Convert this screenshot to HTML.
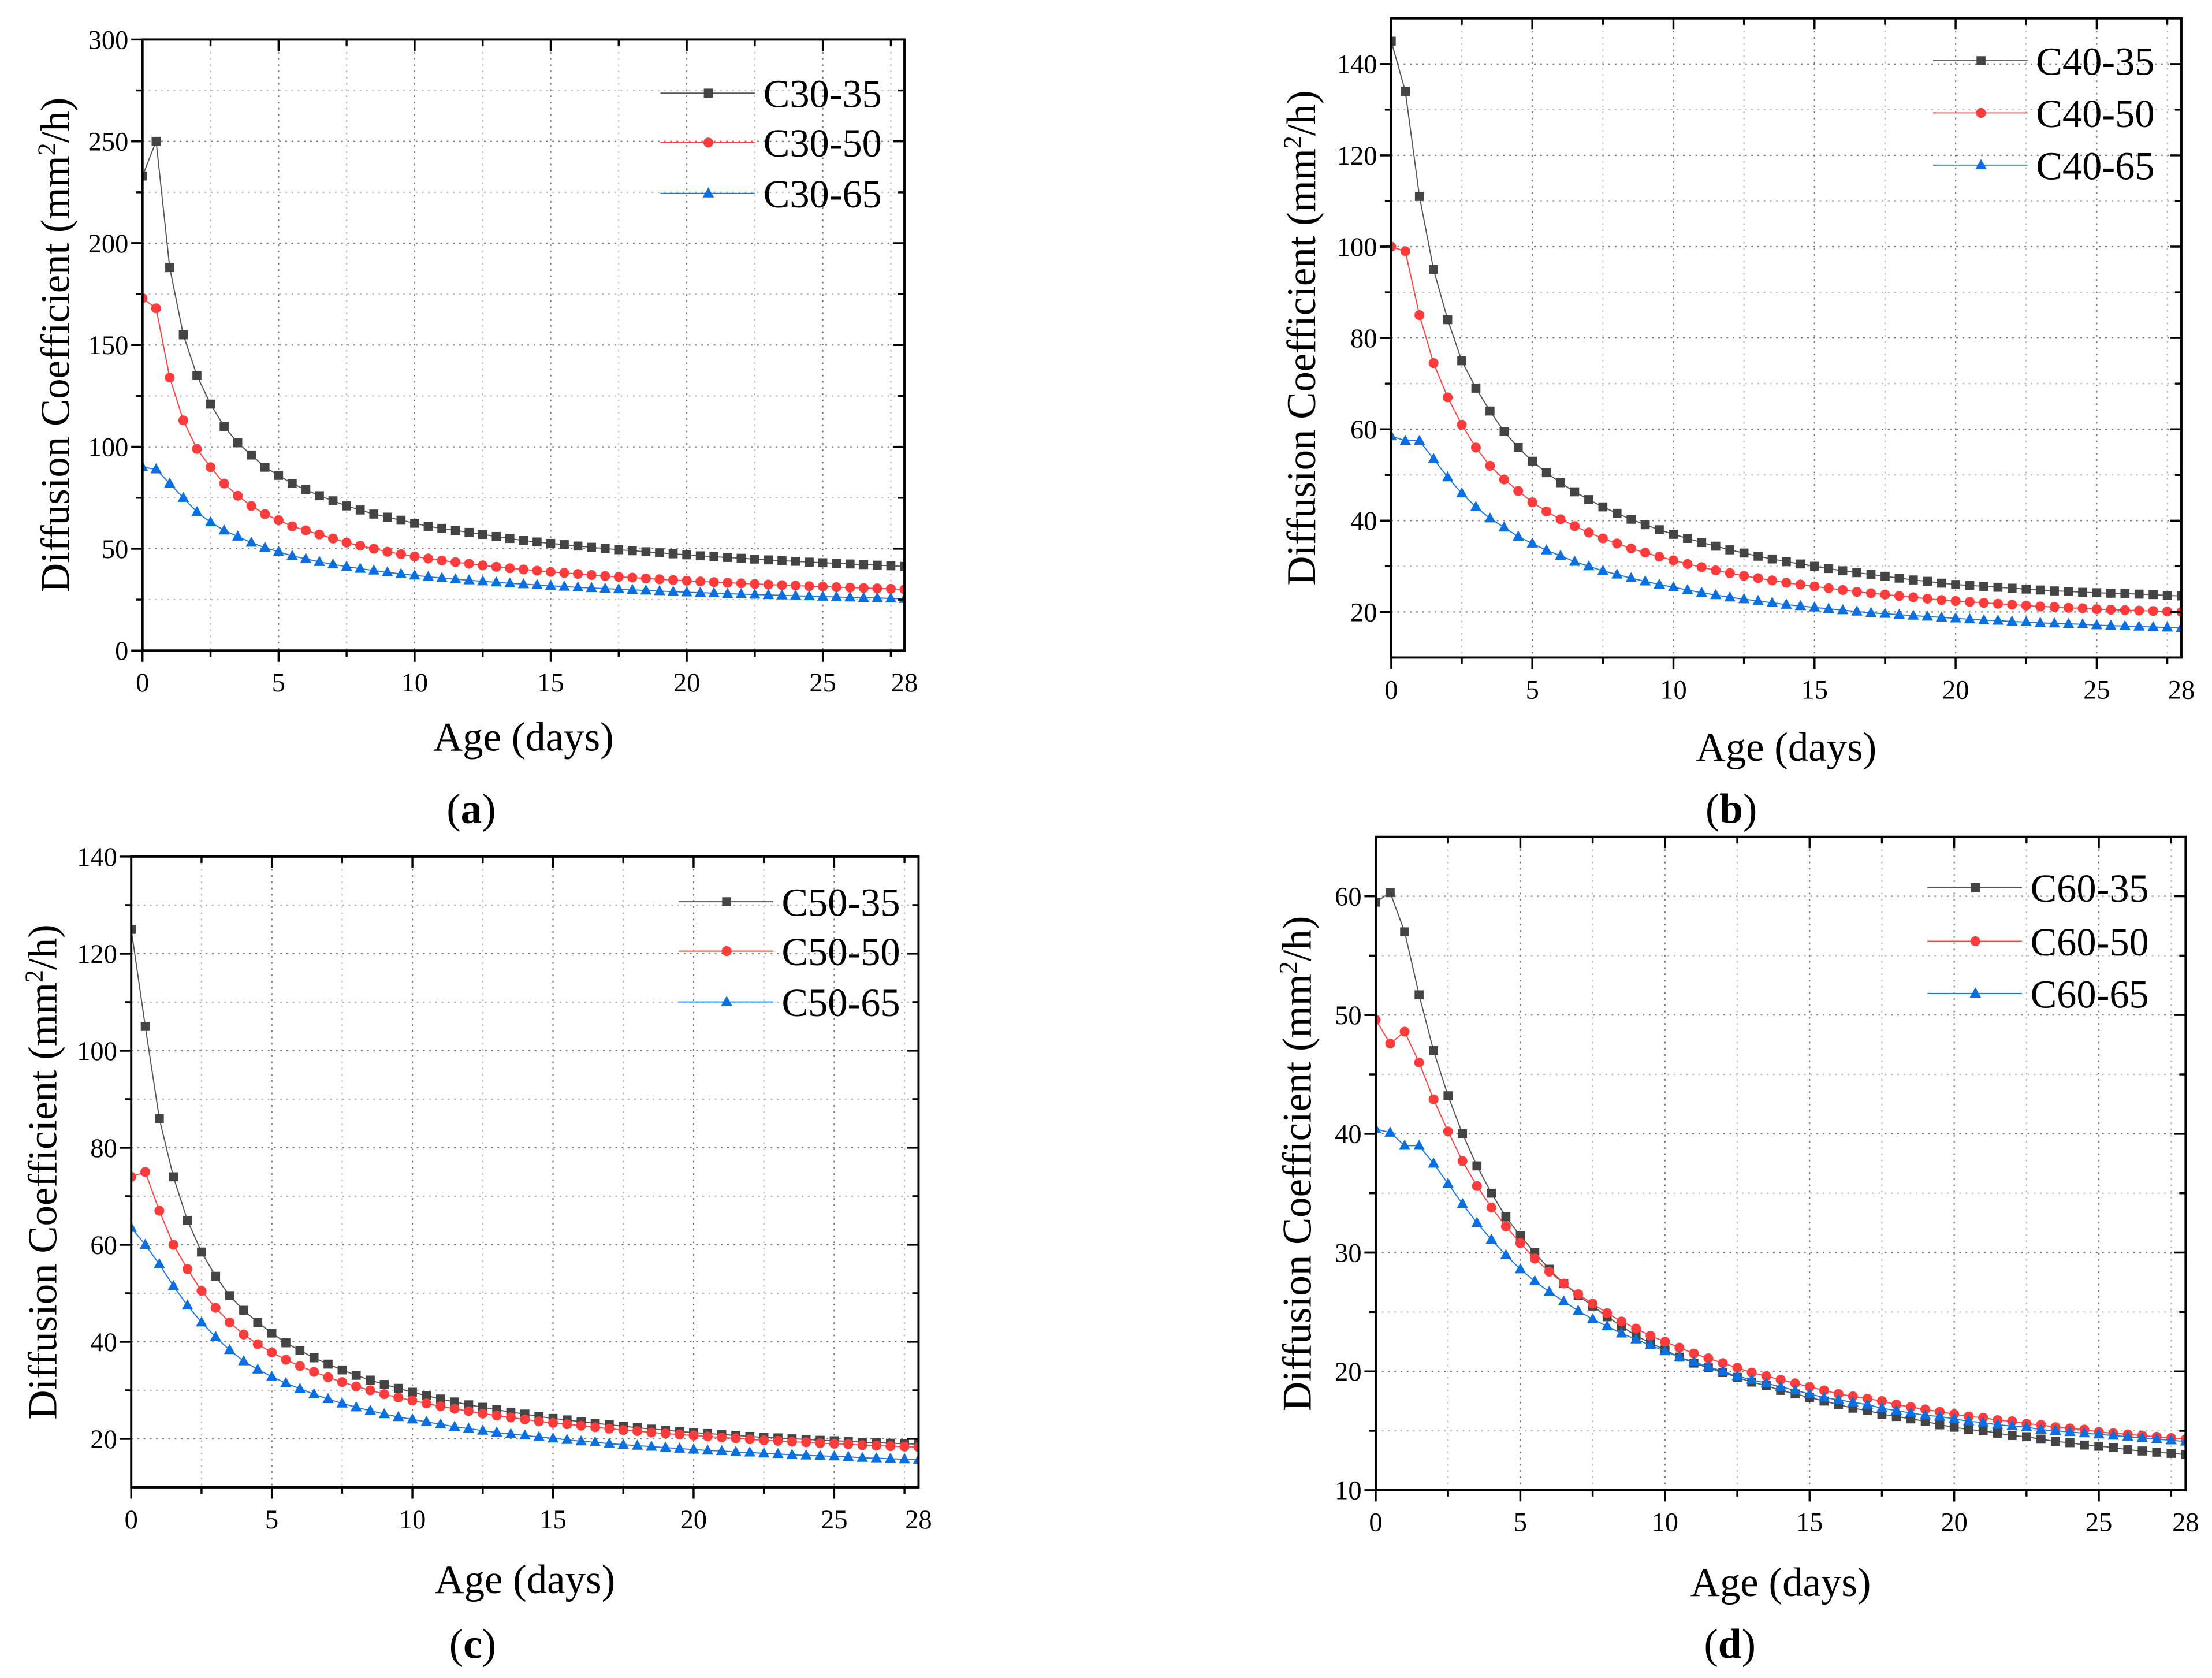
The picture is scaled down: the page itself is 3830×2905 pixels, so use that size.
<!DOCTYPE html>
<html><head><meta charset="utf-8">
<style>
html,body{margin:0;padding:0;background:#fff;}
svg{display:block;}
text{font-family:"Liberation Serif",serif;fill:#000;}
</style></head>
<body>
<svg id="fig" width="3830" height="2905" viewBox="0 0 1567.7 1189.1" preserveAspectRatio="none" xmlns="http://www.w3.org/2000/svg">
<rect x="0" y="0" width="1567.7" height="1189.1" fill="#fff"/>
</svg>
<script>
const ages = [];
for (let i = 0; i <= 56; i++) ages.push(i * 0.5);

const c30_35 = [233,250,188,155,135,121,110,102,96,90,86,82,79,76,73.5,71,69,67,65.5,64,62.5,61,60,59,58,57,56,55,54,53.3,52.6,52,51.3,50.7,50.1,49.5,49,48.5,48,47.5,47,46.5,46.1,45.7,45.3,44.9,44.5,44.1,43.8,43.4,43.1,42.8,42.5,42.2,41.9,41.6,41.3];
const c30_50 = [173,168,134,113,99,90,82,76,71,67,64,61,59,57,55,53,51.5,50,48.5,47.3,46.2,45.2,44.2,43.4,42.6,41.8,41.1,40.4,39.8,39.2,38.6,38.1,37.6,37.1,36.6,36.2,35.8,35.4,35,34.6,34.3,33.9,33.6,33.3,33,32.7,32.4,32.1,31.9,31.6,31.4,31.1,30.9,30.7,30.5,30.3,30];
const c30_65 = [90,89,82,75,68,63,59,56,53,50.5,48.5,46.5,45,43.5,42.3,41.2,40.2,39.3,38.4,37.6,36.9,36.2,35.6,35,34.5,34,33.5,33,32.6,32.2,31.8,31.4,31,30.7,30.4,30.1,29.8,29.5,29.2,28.9,28.6,28.4,28.2,27.9,27.7,27.5,27.3,27.1,26.9,26.7,26.5,26.3,26.1,25.9,25.8,25.6,25.4];

const c40_35 = [145,134,111,95,84,75,69,64,59.5,56,53,50.5,48.3,46.3,44.6,43,41.6,40.3,39.1,38,37,36.1,35.2,34.4,33.6,32.9,32.2,31.6,31,30.5,30,29.5,29,28.6,28.2,27.8,27.4,27,26.7,26.3,26,25.8,25.6,25.4,25.2,25,24.8,24.6,24.5,24.3,24.2,24.1,24,23.9,23.8,23.6,23.5];
const c40_50 = [100,99,85,74.5,67,61,56,52,49,46.5,44,42,40.3,38.8,37.4,36.1,35,33.9,33,32.1,31.3,30.5,29.8,29.1,28.5,27.9,27.4,26.9,26.4,26,25.6,25.2,24.8,24.4,24.1,23.8,23.5,23.2,22.9,22.6,22.4,22.2,22,21.8,21.6,21.4,21.2,21.1,20.9,20.8,20.6,20.5,20.4,20.3,20.2,20.1,20];
const c40_65 = [58.5,57.5,57.5,53.5,49.5,46,43,40.5,38.5,36.5,35,33.5,32.3,31,30,29,28.2,27.4,26.7,26,25.4,24.8,24.2,23.7,23.2,22.8,22.4,22,21.6,21.3,21,20.7,20.4,20.1,19.8,19.6,19.4,19.2,19,18.8,18.6,18.4,18.2,18.1,17.9,17.8,17.6,17.5,17.4,17.3,17.1,17,16.9,16.8,16.7,16.6,16.5];

const c50_35 = [125,105,86,74,65,58.5,53.5,49.5,46.5,44,41.8,39.8,38.2,36.7,35.4,34.2,33.1,32.1,31.2,30.4,29.6,28.9,28.2,27.6,27,26.5,26,25.5,25.1,24.6,24.2,23.9,23.5,23.2,22.9,22.6,22.3,22,21.8,21.5,21.3,21.1,20.9,20.7,20.5,20.3,20.2,20,19.9,19.7,19.6,19.5,19.3,19.2,19.1,19,18.9];
const c50_50 = [74,75,67,60,55,50.5,47,44,41.5,39.5,37.8,36.3,35,33.8,32.7,31.7,30.8,30,29.2,28.5,27.9,27.3,26.7,26.2,25.7,25.2,24.8,24.4,24,23.6,23.3,23,22.7,22.4,22.1,21.8,21.6,21.3,21.1,20.9,20.7,20.5,20.3,20.1,19.9,19.7,19.6,19.4,19.3,19.1,19,18.9,18.7,18.6,18.5,18.4,18.3];
const c50_65 = [63.5,60,56,51.5,47.5,44,41,38.3,36,34.3,32.8,31.5,30.3,29.2,28.2,27.3,26.5,25.8,25.1,24.5,24,23.5,23,22.5,22.1,21.7,21.3,21,20.7,20.4,20.1,19.8,19.5,19.3,19,18.8,18.6,18.4,18.2,18,17.8,17.6,17.5,17.3,17.2,17,16.9,16.7,16.6,16.5,16.4,16.3,16.1,16,15.9,15.8,15.7];

const c60_35 = [59.5,60.3,57,51.7,47,43.2,40,37.3,35,33,31.4,30,28.6,27.4,26.4,25.5,24.6,23.8,23,22.4,21.8,21.2,20.7,20.3,19.9,19.5,19.1,18.8,18.4,18.1,17.8,17.5,17.2,16.9,16.7,16.4,16.2,16,15.8,15.5,15.3,15.1,15,14.8,14.6,14.5,14.3,14.1,14,13.8,13.7,13.6,13.4,13.3,13.2,13.1,13];
const c60_50 = [49.6,47.6,48.6,46,42.9,40.2,37.7,35.6,33.8,32.2,30.8,29.5,28.4,27.4,26.5,25.7,24.9,24.2,23.6,23,22.5,22,21.5,21.1,20.7,20.3,19.9,19.6,19.3,19,18.7,18.4,18.1,17.9,17.7,17.5,17.2,17,16.8,16.6,16.4,16.2,16.1,15.9,15.8,15.6,15.5,15.3,15.2,15.1,14.9,14.8,14.7,14.6,14.5,14.4,14.3];
const c60_65 = [40.4,40.1,39,39,37.5,35.8,34.1,32.5,31.1,29.8,28.6,27.6,26.7,25.9,25.1,24.4,23.8,23.2,22.7,22.2,21.7,21.2,20.8,20.4,20,19.6,19.3,19,18.7,18.4,18.1,17.8,17.6,17.4,17.2,16.9,16.7,16.5,16.3,16.2,16,15.8,15.7,15.5,15.4,15.3,15.1,15,14.9,14.8,14.7,14.6,14.5,14.4,14.3,14.2,14.1];

const xTickLabels = ["0","5","10","15","20","25","28"];
const xTickValues = [0,5,10,15,20,25,28];
const yTicksA = [0,50,100,150,200,250,300];
const yTicksB = [20,40,60,80,100,120,140];
const yTicksC = [20,40,60,80,100,120,140];
const yTicksD = [10,20,30,40,50,60];
const namesA = ["C30-35","C30-50","C30-65"];
const namesB = ["C40-35","C40-50","C40-65"];
const namesC = ["C50-35","C50-50","C50-65"];
const namesD = ["C60-35","C60-50","C60-65"];

const NS = "http://www.w3.org/2000/svg";
const svg = document.getElementById('fig');
function mk(tag, attrs, parent) {
  const e = document.createElementNS(NS, tag);
  for (const k in attrs) e.setAttribute(k, attrs[k]);
  (parent || svg).appendChild(e);
  return e;
}
const COLORS = ["#444444", "#ff3b3b", "#0a6fe0"];
const LINECOL = ["#555555", "#ff4040", "#1a78e6"];

function marker(g, type, x, y, col) {
  let m;
  if (type === 0) m = mk('rect', {x: x-3.2, y: y-3.2, width: 6.4, height: 6.4, fill: col}, g);
  else if (type === 1) m = mk('circle', {cx: x, cy: y, r: 3.5, fill: col}, g);
  else m = mk('polygon', {points: `${x},${y-4.3} ${x+4},${y+2.9} ${x-4},${y+2.9}`, fill: col}, g);
  return m;
}

let clipId = 0;
function panel(p) {
  const g = mk('g', {});
  
  
  const X = v => p.x0 + (v - 0) / 28 * (p.x1 - p.x0);
  const Y = v => p.yb - (v - p.ymin) / (p.ymax - p.ymin) * (p.yb - p.yt);
  const grid = mk('g', {}, g);
  
  
  for (let v = 2.5; v < 28; v += 2.5) {
    const major = Math.abs(v % 5) < 1e-6;
    mk('line', {x1: X(v), x2: X(v), y1: p.yt, y2: p.yb, stroke: major ? '#777' : '#bbb', 'stroke-width': 0.9, 'stroke-dasharray': '1.2,3.2'}, grid);
  }
  const ystep = p.ystep;
  for (let v = p.ymin + ystep/2; v < p.ymax - 1e-6; v += ystep/2) {
    const major = Math.abs(((v - p.yfirst) / ystep) - Math.round((v - p.yfirst) / ystep)) < 1e-6;
    mk('line', {x1: p.x0, x2: p.x1, y1: Y(v), y2: Y(v), stroke: major ? '#777' : '#bbb', 'stroke-width': 0.9, 'stroke-dasharray': '1.2,3.2'}, grid);
  }
  clipId++;
  const cp = mk('clipPath', {id: 'cp' + clipId}, g);
  mk('rect', {x: p.x0, y: p.yt, width: p.x1 - p.x0, height: p.yb - p.yt}, cp);
  p.series.forEach((s, si) => {
    const sg = mk('g', {'clip-path': `url(#cp${clipId})`}, g);
    
    
    const pts = s.map((v, i) => X(ages[i]) + ',' + Y(v)).join(' ');
    mk('polyline', {points: pts, fill: 'none', stroke: LINECOL[si], 'stroke-width': 0.8}, sg);
    s.forEach((v, i) => {
      const m = marker(sg, si, X(ages[i]), Y(v), COLORS[si]);
      
      
    });
  });
  const fr = mk('rect', {x: p.x0, y: p.yt, width: p.x1 - p.x0, height: p.yb - p.yt, fill: 'none', stroke: '#000', 'stroke-width': 1.6}, g);
  
  
  const xa = mk('g', {}, g);
  
  
  for (let v = 0; v <= 27.6; v += 2.5) {
    const major = Math.abs(v % 5) < 1e-6;
    const len = major ? 8 : 4.5;
    mk('line', {x1: X(v), x2: X(v), y1: p.yb, y2: p.yb + len, stroke: '#000', 'stroke-width': 1.4}, xa);
    mk('line', {x1: X(v), x2: X(v), y1: p.yt, y2: p.yt + len, stroke: '#000', 'stroke-width': 1.4}, xa);
  }
  xTickValues.forEach((v, i) => {
    const t = mk('text', {x: X(v), y: p.yb + 29, 'font-size': 19, 'text-anchor': 'middle'}, xa);
    t.textContent = xTickLabels[i];
    
    
  });
  const ya = mk('g', {}, g);
  
  
  for (let v = p.ymin + ystep/2; v < p.ymax - 1e-6; v += ystep/2) {
    const major = Math.abs(((v - p.yfirst) / ystep) - Math.round((v - p.yfirst) / ystep)) < 1e-6;
    const len = major ? 8 : 4.5;
    mk('line', {x1: p.x0 - len, x2: p.x0, y1: Y(v), y2: Y(v), stroke: '#000', 'stroke-width': 1.4}, ya);
    mk('line', {x1: p.x1 - len, x2: p.x1, y1: Y(v), y2: Y(v), stroke: '#000', 'stroke-width': 1.4}, ya);
  }
  p.yticks.forEach(v => {
    mk('line', {x1: p.x0 - 8, x2: p.x0, y1: Y(v), y2: Y(v), stroke: '#000', 'stroke-width': 1.4}, ya);
    const t = mk('text', {x: p.x0 - 10, y: Y(v) + 6.5, 'font-size': 19, 'text-anchor': 'end'}, ya);
    t.textContent = String(v);
    
    
  });
  const xt = mk('text', {x: (p.x0 + p.x1) / 2, y: p.xty, 'font-size': 29, 'text-anchor': 'middle'}, g);
  xt.textContent = 'Age (days)';
  
  
  const cy = (p.yt + p.yb) / 2;
  const yt = mk('text', {x: p.ytx, y: cy, 'font-size': 29, 'text-anchor': 'middle', transform: `rotate(-90 ${p.ytx} ${cy})`}, g);
  yt.innerHTML = 'Diffusion Coefficient (mm<tspan dy="-10" font-size="18">2</tspan><tspan dy="10">/h)</tspan>';
  
  
  const pl = mk('text', {x: p.lx, y: p.ly, 'font-size': 30, 'text-anchor': 'middle'}, g);
  pl.innerHTML = '(<tspan font-weight="bold">' + p.id + '</tspan>)';
  
  
  const lg = mk('g', {}, g);
  
  
  p.names.forEach((n, i) => {
    const e = mk('g', {}, lg);
    
    
    const yy = p.legY[i];
    mk('line', {x1: p.legX, x2: p.legX + 67, y1: yy, y2: yy, stroke: LINECOL[i], 'stroke-width': 0.8}, e);
    marker(e, i, p.legX + 34, yy, COLORS[i]);
    const t = mk('text', {x: p.legX + 73, y: yy + 10, 'font-size': 28}, e);
    t.textContent = n;
  });
}

panel({id: 'a', x0: 101, x1: 641, yt: 28, yb: 461, ymin: 0, ymax: 300, ystep: 50, yfirst: 0, yticks: yTicksA,
  series: [c30_35, c30_50, c30_65], names: namesA, xty: 532, ytx: 49, lx: 334, ly: 583, legX: 468, legY: [66, 101, 137]});
panel({id: 'b', x0: 986, x1: 1546, yt: 13, yb: 466, ymin: 10, ymax: 150, ystep: 20, yfirst: 20, yticks: yTicksB,
  series: [c40_35, c40_50, c40_65], names: namesB, xty: 539, ytx: 932, lx: 1227, ly: 583, legX: 1370, legY: [43, 80, 117]});
panel({id: 'c', x0: 93, x1: 651, yt: 607, yb: 1054, ymin: 10, ymax: 140, ystep: 20, yfirst: 20, yticks: yTicksC,
  series: [c50_35, c50_50, c50_65], names: namesC, xty: 1129, ytx: 40, lx: 335, ly: 1175, legX: 481, legY: [639, 674, 710]});
panel({id: 'd', x0: 975, x1: 1549, yt: 593, yb: 1056, ymin: 10, ymax: 65, ystep: 10, yfirst: 10, yticks: yTicksD,
  series: [c60_35, c60_50, c60_65], names: namesD, xty: 1131, ytx: 929, lx: 1226, ly: 1175, legX: 1366, legY: [629, 667, 704]});
</script>
</body></html>
